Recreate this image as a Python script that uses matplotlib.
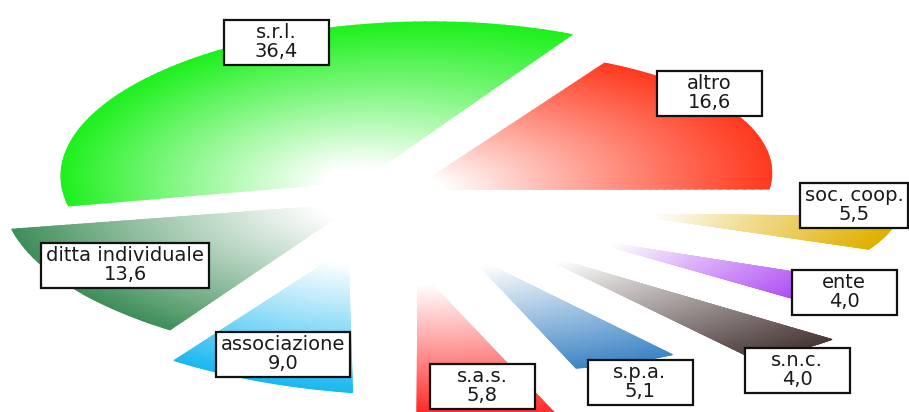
import numpy as np
import matplotlib
matplotlib.use("Agg")
import matplotlib.pyplot as plt
from matplotlib.colors import LinearSegmentedColormap
from matplotlib.transforms import Transform
from matplotlib.path import Path
from matplotlib.patches import Rectangle

# ---- data (counter-clockwise from 3 o'clock) ----
labels = ["altro", "s.r.l.", "ditta individuale", "associazione", "s.a.s.",
          "s.p.a.", "s.n.c.", "ente", "soc. coop."]
values = [16.6, 36.4, 13.6, 9.0, 5.8, 5.1, 4.0, 4.0, 5.5]

# ---- style / layout ----
colors = ["#ff3a1f", "#1ef01e", "#3f8f5a", "#1ab8f0", "#ff2a2a",
          "#3d85c6", "#4a3838", "#9a1ff0", "#e0b000"]
explode = [0.092, 0.125, 0.097, 0.396, 0.543, 0.485, 0.576, 0.623, 0.660]
radii = [0.871, 1.001, 1.238, 1.186, 1.166, 0.880, 0.922, 0.770, 0.584]
# perspective of the pie plane onto the page (pixel space, y downward)
persp = [[290.18, -21.127, 384.02],
         [-28.156, -159.59, 195.98],
         [-0.1468, -0.084934, 1.0]]
label_pos = [(709, 93), (276, 42), (125, 265), (283, 354), (482, 386),
             (640, 382), (797, 370), (844, 292), (854, 205)]


class Homography(Transform):
    input_dims = 2
    output_dims = 2
    is_separable = False
    has_inverse = False

    def __init__(self, H):
        super().__init__()
        self.H = np.asarray(H, float)

    def transform_non_affine(self, values):
        xy = np.asarray(values, float).reshape(-1, 2)
        p = np.hstack([xy, np.ones((len(xy), 1))]) @ self.H.T
        return p[:, :2] / p[:, 2:3]

    def transform_path_non_affine(self, path):
        ip = path.interpolated(64)
        return Path(self.transform_non_affine(ip.vertices), ip.codes)


fig = plt.figure(figsize=(9.09, 4.12), dpi=100)
ax = fig.add_axes([0, 0, 1, 1])
plane = Homography(persp) + ax.transData

wedges, _ = ax.pie(values, explode=explode, startangle=0, counterclock=True,
                   radius=1, wedgeprops=dict(facecolor="none", edgecolor="none",
                                             transform=plane))
ax.set_aspect("auto")
ax.set_xlim(0, 909)
ax.set_ylim(412, 0)
ax.axis("off")

rr = np.linspace(0, 1, 50)
for w, col, rad in zip(wedges, colors, radii):
    w.set_radius(rad)
    cx, cy = w.center
    tt = np.radians(np.linspace(w.theta1, w.theta2, 90))
    R, T = np.meshgrid(rr, tt)
    X = cx + rad * R * np.cos(T)
    Y = cy + rad * R * np.sin(T)
    cmap = LinearSegmentedColormap.from_list(
        "g", [(0, "white"), (0.1, "white"), (1, col)])
    ax.pcolormesh(X, Y, R, shading="gouraud", cmap=cmap, vmin=0, vmax=1,
                  transform=plane, zorder=2)

texts = []
for lab, val, (x, y) in zip(labels, values, label_pos):
    s = lab + "\n" + ("%.1f" % val).replace(".", ",")
    t = ax.text(x, y, s, ha="center", va="center", fontsize=14,
                linespacing=1.0, color="#1a1a1a", zorder=6,
                family="DejaVu Sans")
    texts.append((t, x, y))

fig.canvas.draw()
for t, x, y in texts:
    bb = t.get_window_extent()
    wdt = max(105, bb.width + 10)
    ax.add_patch(Rectangle((x - wdt / 2, y - 22.5), wdt, 45, facecolor="white",
                           edgecolor="#111111", linewidth=1.6, zorder=5))

fig.savefig("out.png", dpi=100)
